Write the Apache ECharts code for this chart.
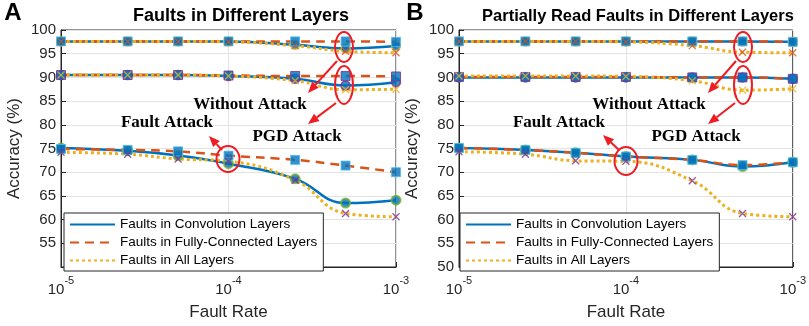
<!DOCTYPE html>
<html>
<head>
<meta charset="utf-8">
<script src="https://cdn.jsdelivr.net/npm/echarts@6/dist/echarts.min.js"></script>
<style>
html, body { margin: 0; padding: 0; background: #fff; }
#main { width: 809px; height: 326px; }
</style>
</head>
<body>
<div id="main"></div>
<script>
// fault rates (x) and the minor grid positions of the log axis
var rates = [1e-5, 2.5e-5, 5e-5, 1e-4, 2.5e-4, 5e-4, 1e-3];
var minorRates = [2e-5, 3e-5, 4e-5, 5e-5, 6e-5, 7e-5, 8e-5, 9e-5, 2e-4, 3e-4, 4e-4, 5e-4, 6e-4, 7e-4, 8e-4, 9e-4];
var yTicks = [50, 55, 60, 65, 70, 75, 80, 85, 90, 95, 100];

// panel A : faults in different layers
var convNoAtkA = [97.6, 97.6, 97.6, 97.6, 96.9, 96.1, 96.6];
var fcNoAtkA = [97.6, 97.6, 97.6, 97.6, 97.6, 97.6, 97.5];
var allNoAtkA = [97.6, 97.6, 97.6, 97.5, 96.7, 95.5, 95.2];
var convPgdA = [90.5, 90.5, 90.5, 90.3, 89.7, 88.3, 89.0];
var fcPgdA = [90.5, 90.5, 90.5, 90.4, 90.3, 90.3, 90.2];
var allPgdA = [90.5, 90.5, 90.5, 90.3, 89.3, 87.4, 87.5];
var convFaultA = [75.1, 74.5, 73.5, 71.8, 68.6, 63.5, 64.1];
var fcFaultA = [74.9, 74.7, 74.4, 73.5, 72.6, 71.4, 70.0];
var allFaultA = [74.2, 73.8, 72.8, 72.3, 68.3, 61.3, 60.6];

// panel B : partially read faults
var convNoAtkB = [97.6, 97.6, 97.6, 97.6, 97.6, 97.6, 97.5];
var fcNoAtkB = [97.6, 97.6, 97.6, 97.6, 97.6, 97.6, 97.5];
var allNoAtkB = [97.6, 97.6, 97.6, 97.5, 96.7, 95.3, 95.2];
var convPgdB = [90.0, 90.0, 90.0, 90.0, 90.0, 90.0, 89.7];
var fcPgdB = [90.1, 90.1, 90.1, 90.1, 90.0, 90.0, 89.7];
var allPgdB = [90.3, 90.3, 90.3, 90.2, 89.3, 87.3, 87.6];
var convFaultB = [75.1, 74.7, 74.1, 73.3, 72.6, 71.2, 72.1];
var fcFaultB = [75.1, 74.7, 74.1, 73.3, 72.6, 71.5, 72.1];
var allFaultB = [74.3, 73.8, 72.4, 72.3, 68.2, 61.3, 60.6];

var seriesNames = ['Faults in Convolution Layers', 'Faults in Fully-Connected Layers', 'Faults in All Layers'];

var BLUE = '#0072BD', ORANGE = '#D95319', YELLOW = '#EDB120', PURPLE = '#7E2F8E', GREEN = '#77AC30', CYAN = '#4DBEEE';
var RED = '#ee1c25';
var AXIS = '#262626';
var CROSS = 'path://M0,0L10,10M10,0L0,10';

var lineStyles = [
	{ color: BLUE, width: 2.5, type: 'solid' },
	{ color: ORANGE, width: 2.5, type: [9, 6] },
	{ color: YELLOW, width: 3, type: [3, 3] }
];

function pairs(vals) {
	return rates.map(function(r, i) { return [r, vals[i]]; });
}

function lineSeries(k, idx, vals) {
	return {
		name: seriesNames[k],
		type: 'line',
		xAxisIndex: idx,
		yAxisIndex: idx,
		data: pairs(vals),
		smooth: 0.45,
		symbol: 'none',
		color: lineStyles[k].color,
		lineStyle: lineStyles[k],
		z: 3 + k,
		silent: true
	};
}

function markerSeries(idx, vals, symbol, size, fill, edge, bw) {
	return {
		type: 'scatter',
		xAxisIndex: idx,
		yAxisIndex: idx,
		data: pairs(vals),
		symbol: symbol,
		symbolSize: size,
		itemStyle: { color: fill, borderColor: edge, borderWidth: bw },
		z: 7,
		silent: true
	};
}

function panelSeries(idx, g) {
	var s = [];
	// lines
	for (var k = 0; k < 3; k++) {
		s.push(lineSeries(k, idx, g.noAtk[k]));
		s.push(lineSeries(k, idx, g.pgd[k]));
		s.push(lineSeries(k, idx, g.fault[k]));
	}
	// markers : circles, squares, crosses
	s.push(markerSeries(idx, g.noAtk[0], 'circle', 9, BLUE, YELLOW, 1.5));
	s.push(markerSeries(idx, g.pgd[0], 'circle', 9, BLUE, PURPLE, 1.5));
	s.push(markerSeries(idx, g.fault[0], 'circle', 9, BLUE, GREEN, 2));
	s.push(markerSeries(idx, g.noAtk[1], 'rect', 9, BLUE, CYAN, 1));
	s.push(markerSeries(idx, g.pgd[1], 'rect', 9, BLUE, PURPLE, 1));
	s.push(markerSeries(idx, g.fault[1], 'rect', 9, BLUE, CYAN, 1));
	s.push(markerSeries(idx, g.noAtk[2], CROSS, 7, 'none', ORANGE, 1.3));
	s.push(markerSeries(idx, g.pgd[2], CROSS, 7, 'none', YELLOW, 1.3));
	s.push(markerSeries(idx, g.fault[2], CROSS, 7, 'none', PURPLE, 1.3));
	// minor grid of the log axis
	s.push({
		type: 'line',
		xAxisIndex: idx,
		yAxisIndex: idx,
		data: [],
		silent: true,
		markLine: {
			silent: true,
			symbol: 'none',
			z: 1,
			label: { show: false },
			lineStyle: { color: '#d9d9d9', type: [1, 2], width: 1 },
			data: minorRates.map(function(v) { return { xAxis: v }; })
		}
	});
	return s;
}

var seriesA = panelSeries(0, {
	noAtk: [convNoAtkA, fcNoAtkA, allNoAtkA],
	pgd: [convPgdA, fcPgdA, allPgdA],
	fault: [convFaultA, fcFaultA, allFaultA]
});
var seriesB = panelSeries(1, {
	noAtk: [convNoAtkB, fcNoAtkB, allNoAtkB],
	pgd: [convPgdB, fcPgdB, allPgdB],
	fault: [convFaultB, fcFaultB, allFaultB]
});

function xAxisOpt(idx) {
	return {
		type: 'log',
		gridIndex: idx,
		logBase: 10,
		min: 1e-5,
		max: 1e-3,
		name: 'Fault Rate',
		nameLocation: 'middle',
		nameGap: 37,
		nameTextStyle: { fontSize: 17, color: AXIS, fontFamily: 'Liberation Sans' },
		axisLine: { lineStyle: { color: AXIS, width: 1 } },
		axisTick: { inside: true, length: 5, lineStyle: { color: AXIS } },
		splitLine: { show: true, lineStyle: { color: '#e3e3e3', width: 1 } },
		axisLabel: {
			margin: 8,
			color: AXIS,
			formatter: function(v) {
				var e = Math.round(Math.log(v) / Math.LN10);
				return '{b|10}{s|' + e + '}';
			},
			rich: {
				b: { fontSize: 15, fontFamily: 'Liberation Sans', color: AXIS, verticalAlign: 'bottom', lineHeight: 22 },
				s: { fontSize: 11, fontFamily: 'Liberation Sans', color: AXIS, verticalAlign: 'top', lineHeight: 22 }
			}
		}
	};
}

function yAxisOpt(idx, hideMin) {
	return {
		type: 'value',
		gridIndex: idx,
		min: yTicks[0],
		max: yTicks[yTicks.length - 1],
		interval: 5,
		name: 'Accuracy (%)',
		nameLocation: 'middle',
		nameGap: 38,
		nameTextStyle: { fontSize: 17, color: AXIS, fontFamily: 'Liberation Sans' },
		axisLine: { show: true, lineStyle: { color: AXIS, width: 1 } },
		axisTick: { inside: true, length: 5, lineStyle: { color: AXIS } },
		splitLine: { show: true, lineStyle: { color: '#e3e3e3', width: 1 } },
		axisLabel: {
			fontSize: 15,
			fontFamily: 'Liberation Sans',
			color: AXIS,
			margin: 5,
			formatter: function(v) {
				return (hideMin && v === yTicks[0]) ? '' : String(v);
			}
		}
	};
}

function legendOpt(left) {
	return {
		data: seriesNames,
		orient: 'vertical',
		left: left,
		top: 213,
		itemWidth: 45,
		itemHeight: 12,
		itemGap: 3,
		padding: [4, 6, 3, 5],
		backgroundColor: '#fff',
		borderColor: AXIS,
		borderWidth: 1,
		selectedMode: false,
		itemStyle: { opacity: 0 },
		textStyle: { fontSize: 13.5, lineHeight: 15, fontFamily: 'Liberation Sans', color: '#000' }
	};
}

function arrow(x1, y1, x2, y2) {
	var a = Math.atan2(y2 - y1, x2 - x1), L = 11, W = 4.5;
	var bx = x2 - L * Math.cos(a), by = y2 - L * Math.sin(a);
	var px = -Math.sin(a) * W, py = Math.cos(a) * W;
	return [
		{ type: 'line', shape: { x1: x1, y1: y1, x2: bx, y2: by }, style: { stroke: RED, lineWidth: 2 }, z: 20 },
		{ type: 'polygon', shape: { points: [[x2, y2], [bx + px, by + py], [bx - px, by - py]] }, style: { fill: RED }, z: 20 }
	];
}

function ellipse(cx, cy, rx, ry) {
	return { type: 'ellipse', shape: { cx: cx, cy: cy, rx: rx, ry: ry }, style: { fill: 'none', stroke: RED, lineWidth: 2 }, z: 20 };
}

function note(text, x, y) {
	return { type: 'text', x: x, y: y, z: 20,
		style: { text: text, font: 'bold 17px "Liberation Serif"', fill: '#000', align: 'center', verticalAlign: 'middle' } };
}

function label(text, x, y, font) {
	return { type: 'text', x: x, y: y, z: 20,
		style: { text: text, font: font, fill: '#000', align: 'center', verticalAlign: 'middle' } };
}

var graphics = [
	label('A', 13, 13, 'bold 24px "Liberation Sans"'),
	label('B', 415, 13, 'bold 24px "Liberation Sans"'),
	label('Faults in Different Layers', 241, 16, 'bold 18px "Liberation Sans"'),
	label('Partially Read Faults in Different Layers', 638, 16, 'bold 16.5px "Liberation Sans"'),
	ellipse(344, 47, 9, 15), ellipse(344, 85, 9, 19), ellipse(228, 159, 11.5, 13),
	ellipse(743, 47, 9, 15), ellipse(743, 85, 9, 19), ellipse(626, 161, 11.5, 14),
	note('Without Attack', 250, 105), note('Fault Attack', 167, 123), note('PGD Attack', 297, 137),
	note('Without Attack', 649, 105), note('Fault Attack', 559, 123), note('PGD Attack', 696, 137)
].concat(
	arrow(337, 61, 308, 93), arrow(336, 103, 308, 124), arrow(222, 150, 209, 136),
	arrow(736, 61, 708, 93), arrow(735, 103, 708, 124), arrow(619, 150, 603, 135)
);

var chart = echarts.init(document.getElementById('main'), null, { renderer: 'canvas' });
chart.setOption({
	animation: false,
	backgroundColor: '#fff',
	textStyle: { fontFamily: 'Liberation Sans' },
	grid: [
		{ left: 61, top: 30, width: 335, height: 241, show: true, borderColor: AXIS, borderWidth: 1, backgroundColor: 'transparent' },
		{ left: 459, top: 30, width: 335, height: 241, show: true, borderColor: AXIS, borderWidth: 1, backgroundColor: 'transparent' }
	],
	xAxis: [xAxisOpt(0), xAxisOpt(1)],
	yAxis: [yAxisOpt(0, true), yAxisOpt(1, false)],
	legend: [legendOpt(64), legendOpt(460)],
	graphic: graphics,
	series: seriesA.concat(seriesB)
});
</script>
</body>
</html>
